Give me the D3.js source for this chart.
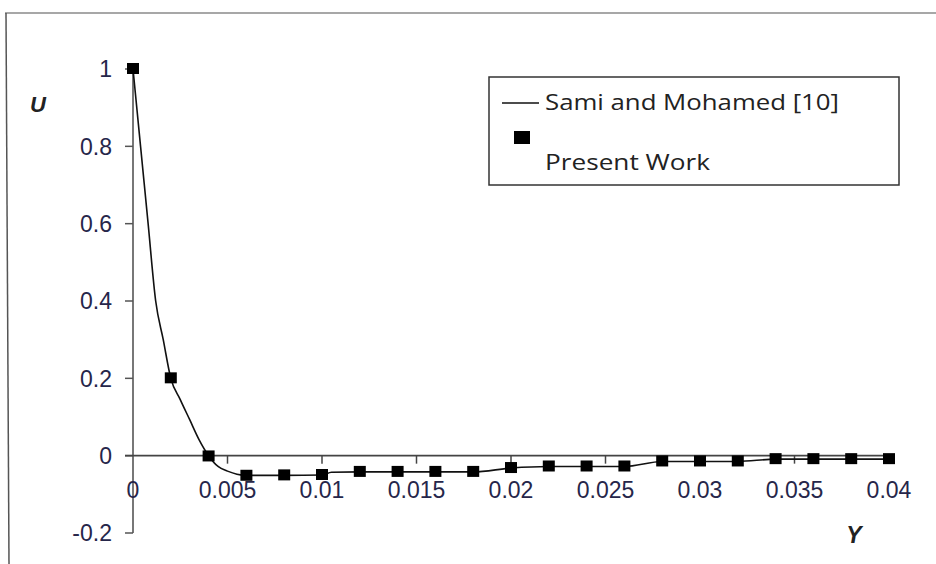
<!DOCTYPE html>
<html>
<head>
<meta charset="utf-8">
<script src="https://cdn.jsdelivr.net/npm/d3@7"></script>
<style>
  html, body { margin: 0; padding: 0; background: #fff; }
  svg { display: block; }
</style>
</head>
<body>
<svg id="chart" width="936" height="564"></svg>
<script>
// ---- data ----
const xTicks = [0, 0.005, 0.01, 0.015, 0.02, 0.025, 0.03, 0.035, 0.04];
const xTickLabels = ["0", "0.005", "0.01", "0.015", "0.02", "0.025", "0.03", "0.035", "0.04"];
const yTicks = [-0.2, 0, 0.2, 0.4, 0.6, 0.8, 1];
const yTickLabels = ["-0.2", "0", "0.2", "0.4", "0.6", "0.8", "1"];

// Present Work (markers)
const presentY = [0, 0.002, 0.004, 0.006, 0.008, 0.01, 0.012, 0.014, 0.016, 0.018, 0.02,
                  0.022, 0.024, 0.026, 0.028, 0.03, 0.032, 0.034, 0.036, 0.038, 0.04];
const presentU = [1, 0.2, -0.002, -0.052, -0.051, -0.05, -0.042, -0.042, -0.042, -0.042, -0.032,
                  -0.028, -0.028, -0.028, -0.015, -0.015, -0.015, -0.009, -0.009, -0.009, -0.009];

// Sami and Mohamed [10] (line)
const samiY = [0, 0.0004, 0.0008, 0.0012, 0.0016, 0.002, 0.0025, 0.003, 0.0035, 0.004,
               0.0045, 0.005, 0.0055, 0.006, 0.008, 0.01, 0.0105, 0.012, 0.014, 0.016, 0.018,
               0.02, 0.022, 0.024, 0.026, 0.028, 0.03, 0.032, 0.034, 0.036, 0.038, 0.04];
const samiU = [1, 0.8, 0.6, 0.4, 0.3, 0.2, 0.145, 0.093, 0.041, 0,
               -0.028, -0.04, -0.048, -0.051, -0.051, -0.05, -0.043, -0.042, -0.042, -0.042, -0.042,
               -0.032, -0.028, -0.028, -0.028, -0.015, -0.015, -0.015, -0.009, -0.009, -0.009, -0.009];

const seriesNames = ["Sami and Mohamed [10]", "Present Work"];
const xLabel = "Y";
const yLabel = "U";

// ---- drawing ----
const svg = d3.select("#chart");
const x = d3.scaleLinear().domain([0, 0.04]).range([133, 889]);
const y = d3.scaleLinear().domain([-0.2, 1]).range([533, 69]);

// outer frame (partial)
svg.append("line").attr("x1", 5).attr("y1", 13).attr("x2", 936).attr("y2", 13)
  .attr("stroke", "#8a8a8a").attr("stroke-width", 1.5);
svg.append("line").attr("x1", 6).attr("y1", 13).attr("x2", 9).attr("y2", 564)
  .attr("stroke", "#555").attr("stroke-width", 1.5);

// y axis line
svg.append("line").attr("x1", x(0)).attr("x2", x(0)).attr("y1", y(1)).attr("y2", y(-0.2))
  .attr("stroke", "#777").attr("stroke-width", 2);
// y ticks
svg.append("g").selectAll("line").data(yTicks).join("line")
  .attr("x1", x(0) - 8).attr("x2", x(0))
  .attr("y1", d => y(d)).attr("y2", d => y(d))
  .attr("stroke", "#555").attr("stroke-width", 1.5);
svg.append("g").selectAll("text").data(yTicks).join("text")
  .attr("x", 112).attr("y", d => y(d)).attr("dy", "0.36em")
  .attr("text-anchor", "end")
  .attr("font-family", "'Liberation Sans', Arial, sans-serif")
  .attr("font-size", 23).attr("fill", "#26264a")
  .text((d, i) => yTickLabels[i]);

// x axis (at U = 0)
svg.append("line").attr("x1", x(0) - 8).attr("x2", x(0.04) + 6).attr("y1", y(0)).attr("y2", y(0))
  .attr("stroke", "#444").attr("stroke-width", 1.8);
svg.append("g").selectAll("line").data(xTicks.slice(1)).join("line")
  .attr("x1", d => x(d)).attr("x2", d => x(d))
  .attr("y1", y(0)).attr("y2", y(0) + 8)
  .attr("stroke", "#444").attr("stroke-width", 1.5);
svg.append("g").selectAll("text").data(xTicks).join("text")
  .attr("x", d => x(d)).attr("y", 498)
  .attr("text-anchor", "middle")
  .attr("font-family", "'Liberation Sans', Arial, sans-serif")
  .attr("font-size", 23).attr("fill", "#26264a")
  .text((d, i) => xTickLabels[i]);

// line series
const samiData = samiY.map((v, i) => [v, samiU[i]]);
svg.append("path").datum(samiData)
  .attr("fill", "none").attr("stroke", "#111").attr("stroke-width", 1.6)
  .attr("d", d3.line().x(d => x(d[0])).y(d => y(d[1])).curve(d3.curveMonotoneX));

// markers
const ms = 12;
svg.append("g").selectAll("rect").data(presentY.map((v, i) => [v, presentU[i]])).join("rect")
  .attr("x", d => x(d[0]) - ms / 2).attr("y", d => y(d[1]) - ms / 2)
  .attr("width", ms).attr("height", ms - 1).attr("fill", "#000");

// axis titles
svg.append("text").attr("x", 38).attr("y", 112).attr("text-anchor", "middle")
  .attr("font-family", "'Liberation Sans', Arial, sans-serif").attr("font-size", 22)
  .attr("font-style", "italic").attr("font-weight", "bold").attr("fill", "#222")
  .text(yLabel);
svg.append("text").attr("x", 854).attr("y", 543).attr("text-anchor", "middle")
  .attr("font-family", "'Liberation Sans', Arial, sans-serif").attr("font-size", 23)
  .attr("font-style", "italic").attr("font-weight", "bold").attr("fill", "#222")
  .text(xLabel);

// legend
const lg = svg.append("g");
lg.append("rect").attr("x", 489).attr("y", 77).attr("width", 410).attr("height", 108)
  .attr("fill", "#fff").attr("stroke", "#333").attr("stroke-width", 1.5);
lg.append("line").attr("x1", 502).attr("x2", 539).attr("y1", 103).attr("y2", 103)
  .attr("stroke", "#111").attr("stroke-width", 1.5);
const t1 = lg.append("text").attr("x", 545).attr("y", 110)
  .attr("font-family", "'Open Sans', 'Noto Sans', sans-serif").attr("font-size", 21)
  .attr("fill", "#222").text(seriesNames[0]);
lg.append("rect").attr("x", 514).attr("y", 131).attr("width", 16).attr("height", 13).attr("fill", "#000");
const t2 = lg.append("text").attr("x", 545).attr("y", 170)
  .attr("font-family", "'Open Sans', 'Noto Sans', sans-serif").attr("font-size", 21)
  .attr("fill", "#222").text(seriesNames[1]);
// fit legend text widths to the reference
[[t1, 294], [t2, 165]].forEach(([t, w]) => {
  const cur = t.node().getComputedTextLength();
  if (cur > 0) t.attr("textLength", w).attr("lengthAdjust", "spacingAndGlyphs");
});
</script>
</body>
</html>
